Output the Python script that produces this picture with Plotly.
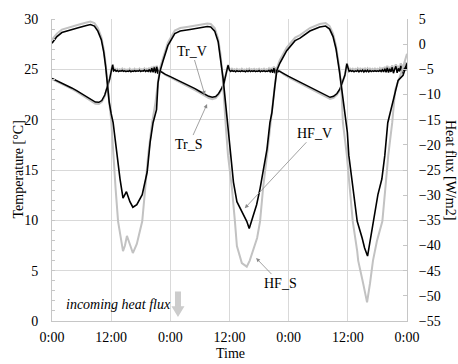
import plotly.graph_objects as go

# ---------------- data (hours since start; Temperature in degC; heat flux in W/m2) -------------
tr_time = [
    0, 1, 2, 3, 4, 5, 6, 7, 8, 8.8, 9.5, 10.1, 10.7, 11.2, 11.7, 12.1, 12.3, 12.5,
    12.75, 13.0, 13.25, 13.5, 13.75, 14.0, 14.25, 14.5, 14.75, 15.0, 15.25, 15.5, 15.75, 16.0, 16.25,
    16.5, 16.75, 17.0, 17.25, 17.5, 17.75, 18.0, 18.25, 18.5, 18.75, 19.0, 19.25, 19.5, 19.75, 20.0,
    20.25, 20.5, 20.75, 21.0, 21.25, 21.5, 21.75,
    22.0, 22.5, 23, 24, 25, 26, 27, 28, 29, 30, 31, 31.8, 32.5, 33.2, 33.8, 34.4, 34.9, 35.3, 35.7, 36.0,
    36.25, 36.5, 36.75, 37.0, 37.25, 37.5, 37.75, 38.0, 38.25, 38.5, 38.75, 39.0, 39.25, 39.5, 39.75,
    40.0, 40.25, 40.5, 40.75, 41.0, 41.25, 41.5, 41.75, 42.0, 42.25, 42.5, 42.75, 43.0, 43.25, 43.5,
    43.75, 44.0, 44.25, 44.5, 44.75, 45.0, 45.25, 45.5, 45.75,
    46.0, 46.5, 47, 48, 49, 50, 51, 52, 53, 54, 55, 55.8, 56.4, 57.1, 57.8, 58.4, 58.9, 59.4, 59.8, 60.1,
    60.25, 60.5, 60.75, 61.0, 61.25, 61.5, 61.75, 62.0, 62.25, 62.5, 62.75, 63.0, 63.25, 63.5, 63.75,
    64.0, 64.25, 64.5, 64.75, 65.0, 65.25, 65.5, 65.75, 66.0, 66.25, 66.5, 66.75, 67.0, 67.25, 67.5,
    67.75, 68.0, 68.25, 68.5, 68.75, 69.0, 69.25, 69.5, 69.75, 70.0, 70.25, 70.5, 70.75, 71.0, 71.25,
    71.5, 71.75, 72.0,
]

tr_v = [
    24.10, 23.88, 23.65, 23.40, 23.15, 22.88, 22.60, 22.30, 21.98, 21.75, 21.72, 21.90, 22.45, 23.20, 24.05, 25.00, 25.45, 24.85,
    24.95, 24.80, 24.88, 24.78, 24.85, 24.82, 24.90, 24.80, 24.86, 24.78, 24.84, 24.80, 24.88, 24.76, 24.83,
    24.80, 24.87, 24.79, 24.85, 24.81, 24.90, 24.78, 24.86, 24.82, 24.92, 24.78, 24.88, 24.80, 24.98, 24.72,
    25.10, 24.70, 25.20, 24.62, 25.25, 24.55, 24.95,
    24.80, 24.62, 24.50, 24.28, 24.05, 23.82, 23.58, 23.33, 23.08, 22.80, 22.52, 22.32, 22.22, 22.30, 22.60, 23.10, 23.70, 24.45, 25.40, 24.90,
    24.78, 24.88, 24.80, 24.85, 24.76, 24.86, 24.80, 24.84, 24.78, 24.87, 24.79, 24.83, 24.76, 24.86, 24.78,
    24.88, 24.77, 24.85, 24.79, 24.86, 24.78, 24.84, 24.80, 24.88, 24.76, 24.85, 24.80, 24.87, 24.78, 24.84,
    24.80, 24.90, 24.74, 24.98, 24.66, 25.12, 24.60, 25.05, 24.70,
    24.85, 24.70, 24.55, 24.30, 24.05, 23.80, 23.55, 23.30, 23.05, 22.78, 22.50, 22.30, 22.22, 22.32, 22.60, 23.05, 23.65, 24.40, 25.55, 24.90,
    24.78, 24.88, 24.80, 24.86, 24.76, 24.85, 24.79, 24.90, 24.75, 24.88, 24.78, 24.92, 24.74, 24.89, 24.77,
    24.91, 24.75, 24.88, 24.78, 24.86, 24.80, 24.87, 24.79, 24.85, 24.80, 24.90, 24.78, 24.95, 24.75, 25.05,
    24.70, 25.15, 24.68, 25.05, 24.75, 25.20, 24.62, 25.00, 25.30, 24.65, 25.10, 24.80, 25.35, 24.60, 25.15,
    24.85, 25.30, 24.90,
]

tr_s = [
    24.05, 23.82, 23.58, 23.33, 23.07, 22.80, 22.50, 22.18, 21.85, 21.60, 21.57, 21.78, 22.35, 23.15, 24.05, 25.05, 25.50, 24.95,
    25.05, 24.90, 25.02, 24.88, 25.00, 24.92, 25.06, 24.90, 25.00, 24.86, 24.98, 24.92, 25.05, 24.88, 24.98,
    24.90, 25.04, 24.88, 25.00, 24.92, 25.06, 24.88, 25.00, 24.94, 25.08, 24.88, 25.02, 24.92, 25.15, 24.82,
    25.25, 24.80, 25.32, 24.75, 25.35, 24.70, 25.05,
    24.85, 24.60, 24.45, 24.20, 23.96, 23.72, 23.47, 23.21, 22.95, 22.66, 22.37, 22.15, 22.05, 22.14, 22.48, 23.02, 23.65, 24.45, 25.45, 25.00,
    24.90, 25.04, 24.92, 25.00, 24.88, 25.02, 24.92, 24.98, 24.90, 25.04, 24.90, 24.98, 24.88, 25.02, 24.90,
    25.05, 24.89, 25.00, 24.92, 25.03, 24.90, 25.00, 24.93, 25.05, 24.88, 25.00, 24.92, 25.05, 24.90, 25.00,
    24.92, 25.08, 24.85, 25.15, 24.78, 25.28, 24.72, 25.20, 24.85,
    24.90, 24.68, 24.50, 24.22, 23.96, 23.70, 23.44, 23.18, 22.92, 22.64, 22.35, 22.15, 22.07, 22.18, 22.50, 22.98, 23.62, 24.42, 25.60, 25.00,
    24.90, 25.05, 24.92, 25.04, 24.88, 25.02, 24.92, 25.08, 24.88, 25.05, 24.90, 25.10, 24.86, 25.06, 24.90,
    25.08, 24.88, 25.05, 24.92, 25.04, 24.92, 25.06, 24.92, 25.04, 24.92, 25.10, 24.90, 25.15, 24.88, 25.25,
    24.85, 25.35, 24.82, 25.25, 24.90, 25.40, 24.80, 25.20, 25.50, 24.85, 25.35, 25.00, 25.60, 24.85, 25.45,
    25.10, 25.70, 25.30,
]

hf_v_time = [
    0, 1, 2, 3, 4, 5.5, 7, 7.8, 8.6, 9.3, 10.0, 10.5, 10.9, 11.2, 11.6, 12.0, 12.4, 12.8, 13.2, 13.8,
    14.4, 15.1, 15.8, 16.4, 17.2, 18.3, 19.3, 19.9, 20.5, 21.2, 21.5, 21.9, 22.5, 23.5, 24.9,
    26, 28, 30, 31.5, 32.2, 33, 33.7, 34.2, 34.7, 35.2, 35.7, 36.2, 36.8, 37.5, 38.5, 39.5, 40.0,
    40.7, 41.5, 42.2, 42.8, 43.6, 44.2, 44.6, 45.2, 45.6, 46.2, 47.6, 49.3,
    50.3, 52.3, 54.3, 55.5, 56.3, 57.0, 57.6, 58.3, 58.9, 59.5, 59.9, 60.2, 61.0, 61.9, 62.9, 63.4,
    64.0, 64.5, 65.1, 66.1, 66.9, 67.5, 68.1, 69.2, 70.2, 71.2, 72.0,
]
hf_v = [
    0.2, 1.5, 2.3, 2.6, 3.0, 3.3, 3.7, 3.9, 3.6, 2.6, 0.9, -1.6, -4.6, -8.0, -11.5, -13.8, -15.6, -18.8, -22.1, -26.8,
    -30.6, -29.3, -31.3, -32.4, -31.9, -29.9, -25.4, -19.5, -15.6, -13.0, -7.7, -5.4, -3.4, -0.3, 2.1,
    2.6, 2.9, 3.2, 3.5, 3.4, 2.6, 0.5, -2.8, -6.8, -11.7, -16.6, -22.1, -27.4, -31.3, -33.2, -35.2, -36.6,
    -34.6, -31.9, -28.7, -25.4, -20.9, -15.6, -13.6, -8.3, -5.2, -3.8, -1.3, 0.7,
    1.2, 2.6, 3.4, 3.6, 3.0, 1.5, -0.9, -5.4, -10.3, -14.6, -17.5, -22.1, -28.7, -35.2, -38.5, -40.5,
    -42.1, -39.1, -35.2, -29.9, -26.8, -22.1, -15.6, -11.1, -7.2, -6.2, -3.8,
]

hf_s_time = [
    0, 1, 2, 3, 4, 5.5, 7, 7.8, 8.6, 9.3, 10.0, 10.5, 10.9, 11.2, 11.6, 12.0, 12.3, 12.6, 12.9, 13.4,
    14.0, 14.4, 14.8, 15.2, 15.7, 16.4, 17.2, 18.3, 18.9, 19.5, 20.3, 21.0, 21.5, 21.9, 22.5, 23.5, 24.9,
    26, 28, 30, 31.5, 32.2, 33, 33.7, 34.2, 34.6, 34.9, 35.3, 35.7, 36.5, 37.1, 37.5, 38.5, 39.5, 40.1,
    40.9, 41.6, 42.2, 42.8, 43.6, 44.3, 44.7, 45.2, 45.6, 46.2, 47.6, 49.3,
    50.3, 52.3, 54.3, 55.5, 56.3, 57.0, 57.6, 58.3, 58.7, 59.0, 59.8, 60.4, 61.0, 61.9, 62.1, 63.1,
    63.9, 64.5, 65.1, 65.9, 67.0, 67.6, 68.2, 69.0, 69.6, 71.0, 72.0,
]
hf_s = [
    0.9, 2.1, 2.9, 3.2, 3.6, 3.9, 4.3, 4.5, 4.2, 3.2, 1.4, -1.0, -4.0, -7.5, -11.5, -15.0, -20.0, -25.0, -28.7, -35.2,
    -39.0, -41.1, -40.0, -38.1, -39.5, -41.5, -39.7, -35.2, -28.7, -22.1, -15.6, -11.5, -7.5, -4.8, -2.8, 0.3, 2.7,
    3.2, 3.5, 3.8, 4.1, 4.0, 3.2, 1.1, -2.2, -6.5, -12.0, -17.0, -22.1, -28.7, -35.2, -40.1, -43.5, -44.2, -43.0,
    -40.5, -38.5, -35.2, -28.7, -22.1, -15.6, -13.0, -8.0, -4.8, -3.2, -0.7, 1.3,
    1.8, 3.2, 4.0, 4.2, 3.6, 2.1, -0.3, -4.8, -9.0, -15.6, -22.1, -28.7, -35.2, -41.1, -43.0, -47.5,
    -51.3, -47.5, -43.0, -39.1, -35.2, -28.7, -22.1, -15.6, -9.1, -5.2, -1.9,
]

x_ticks = [0, 12, 24, 36, 48, 60, 72]
x_tick_text = ["0:00", "12:00", "0:00", "12:00", "0:00", "12:00", "0:00"]
y_left_ticks = [0, 5, 10, 15, 20, 25, 30]
y_right_ticks = [5, 0, -5, -10, -15, -20, -25, -30, -35, -40, -45, -50, -55]

# ---------------- figure ----------------
FONT = "Liberation Serif, Times New Roman, serif"
GRID = "#d9d9d9"
AXIS = "#c6c6c6"
GRAY = "#c2c2c2"

fig = go.Figure()
fig.add_trace(go.Scatter(x=tr_time, y=tr_s, mode="lines", name="Tr_S",
                         line=dict(color=GRAY, width=2.2), yaxis="y"))
fig.add_trace(go.Scatter(x=tr_time, y=tr_v, mode="lines", name="Tr_V",
                         line=dict(color="black", width=1.5), yaxis="y"))
fig.add_trace(go.Scatter(x=hf_s_time, y=hf_s, mode="lines", name="HF_S",
                         line=dict(color=GRAY, width=2.0), yaxis="y2"))
fig.add_trace(go.Scatter(x=hf_v_time, y=hf_v, mode="lines", name="HF_V",
                         line=dict(color="black", width=1.6), yaxis="y2"))

W, H = 458, 364
L, R, T, B = 52, 51, 15, 43
pw, ph = W - L - R, H - T - B


def px(X):
    return (X - L) / pw


def py(Y):
    return (H - B - Y) / ph


txt = dict(family=FONT, size=14, color="black")
arrow = dict(showarrow=True, arrowhead=2, arrowsize=1, arrowwidth=0.8,
             arrowcolor="#8a8a8a", font=txt, xref="x", yref="y")

annotations = [
    dict(text="Time", x=px(230), y=py(354), xref="paper", yref="paper",
         showarrow=False, font=txt, xanchor="center", yanchor="middle"),
    dict(text="Temperature [°C]", x=px(17.5), y=py(168), xref="paper", yref="paper",
         showarrow=False, font=txt, textangle=-90, xanchor="center", yanchor="middle"),
    dict(text="Heat flux [W/m2]", x=px(451), y=py(168), xref="paper", yref="paper",
         showarrow=False, font=txt, textangle=90, xanchor="center", yanchor="middle"),
    dict(text="<i>incoming heat flux</i>", x=13.5, y=1.67, xref="x", yref="y",
         showarrow=False, font=txt, xanchor="center", yanchor="middle"),
    dict(text="Tr_V", x=31.0, y=22.45, ax=-13, ay=-44, **arrow),
    dict(text="Tr_S", x=31.45, y=21.55, ax=-18, ay=40, **arrow),
    dict(text="HF_V", x=39.1, y=11.2, ax=70, ay=-75, **arrow),
    dict(text="HF_S", x=41.4, y=6.25, ax=24, ay=25, **arrow),
]

shapes = [
    dict(type="path", xref="x", yref="y",
         path="M 24.94 2.94 L 26.16 2.94 L 26.16 1.47 L 26.87 1.47 L 25.55 0.39 L 24.23 1.47 L 24.94 1.47 Z",
         fillcolor="#cccccc", line=dict(width=0)),
]

fig.update_layout(
    width=W, height=H,
    margin=dict(l=L, r=R, t=T, b=B, pad=0),
    paper_bgcolor="white", plot_bgcolor="white",
    showlegend=False,
    font=txt,
    annotations=annotations,
    shapes=shapes,
    xaxis=dict(range=[0, 72], tickvals=x_ticks, ticktext=x_tick_text,
               showgrid=True, gridcolor=GRID, gridwidth=1,
               showline=True, linecolor=AXIS, linewidth=1, zeroline=False,
               ticks="", ticklabelstandoff=3, tickfont=txt),
    yaxis=dict(range=[0, 30], tickvals=y_left_ticks,
               showgrid=True, gridcolor=GRID, gridwidth=1,
               showline=True, linecolor=AXIS, linewidth=1, zeroline=False,
               ticks="", ticklabelstandoff=10, tickfont=txt,
               minor=dict(dtick=1, ticks="inside", ticklen=3, tickcolor=AXIS, showgrid=False)),
    yaxis2=dict(range=[-55, 5], tickvals=y_right_ticks, overlaying="y", side="right",
                showgrid=False, showline=True, linecolor=AXIS, linewidth=1, zeroline=False,
                ticks="inside", ticklen=4, tickcolor=AXIS,
                ticklabelstandoff=8, tickfont=txt),
)

fig.write_html("out.html")
